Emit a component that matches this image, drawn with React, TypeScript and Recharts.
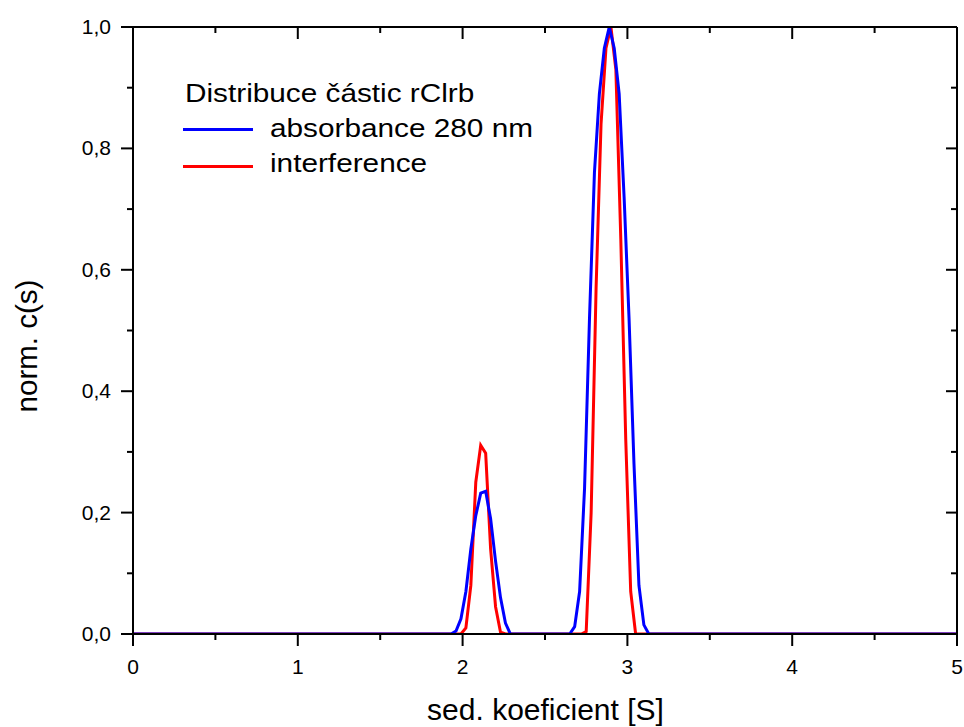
import React from 'react';
import { LineChart, Line, XAxis, YAxis, Legend, Label } from 'recharts';

// sedimentation coefficient [S] and normalised c(s) values
const sBlue = [0, 1.93, 1.96, 1.99, 2.02, 2.05, 2.08, 2.11, 2.14, 2.17, 2.2, 2.23, 2.26, 2.29, 2.65, 2.68, 2.71, 2.74, 2.77, 2.8, 2.83, 2.86, 2.89, 2.92, 2.95, 2.98, 3.01, 3.04, 3.07, 3.1, 3.13, 5];
const cBlue = [0, 0, 0.005, 0.025, 0.07, 0.14, 0.195, 0.232, 0.235, 0.19, 0.12, 0.06, 0.018, 0, 0, 0.012, 0.07, 0.24, 0.52, 0.76, 0.89, 0.965, 1.0, 0.965, 0.89, 0.72, 0.52, 0.28, 0.08, 0.015, 0, 0];
const sRed = [0, 1.99, 2.02, 2.05, 2.08, 2.11, 2.14, 2.17, 2.2, 2.23, 2.26, 2.72, 2.75, 2.78, 2.81, 2.84, 2.87, 2.9, 2.93, 2.96, 2.99, 3.02, 3.05, 5];
const cRed = [0, 0, 0.01, 0.08, 0.25, 0.311, 0.298, 0.14, 0.045, 0.003, 0, 0, 0.004, 0.2, 0.57, 0.84, 0.965, 1.0, 0.93, 0.65, 0.32, 0.07, 0, 0];

const xTicks = [0, 0.5, 1, 1.5, 2, 2.5, 3, 3.5, 4, 4.5, 5];
const yTicks = [0, 0.1, 0.2, 0.3, 0.4, 0.5, 0.6, 0.7, 0.8, 0.9, 1.0];
const legendTitle = 'Distribuce částic rClrb';
const seriesNames = ['absorbance 280 nm', 'interference'];
const seriesColors = ['#0000ff', '#ff0000'];
const xTitle = 'sed. koeficient [S]';
const yTitle = 'norm. c(s)';

const blueData = sBlue.map((s, i) => ({ s, c: cBlue[i] }));
const redData = sRed.map((s, i) => ({ s, c: cRed[i] }));

const FONT = '"Liberation Sans", Arial, Helvetica, sans-serif';
const isMajorX = (v: number) => Math.abs(v - Math.round(v)) < 1e-6;
const isMajorY = (v: number) => Math.round(v * 10) % 2 === 0;
const fmtY = (v: number) => v.toFixed(1).replace('.', ',');

const BottomTick = (props: any) => {
  const { x, y, payload } = props;
  const v = payload.value;
  const major = isMajorX(v);
  return (
    <g>
      <line x1={x} x2={x} y1={y} y2={y + (major ? 12 : 6)} stroke="#000" strokeWidth={2} />
      {major && (
        <text x={x} y={y + 40} textAnchor="middle" fontSize={21} fontFamily={FONT} fill="#000">
          {String(v)}
        </text>
      )}
    </g>
  );
};

const TopTick = (props: any) => {
  const { x, y, payload } = props;
  const major = isMajorX(payload.value);
  return <line x1={x} x2={x} y1={y} y2={y + (major ? 12 : 6)} stroke="#000" strokeWidth={2} />;
};

const LeftTick = (props: any) => {
  const { x, y, payload } = props;
  const v = payload.value;
  const major = isMajorY(v);
  return (
    <g>
      <line x1={x - (major ? 12 : 6)} x2={x} y1={y} y2={y} stroke="#000" strokeWidth={2} />
      {major && (
        <text x={x - 22} y={y + 7} textAnchor="end" fontSize={21} fontFamily={FONT} fill="#000">
          {fmtY(v)}
        </text>
      )}
    </g>
  );
};

const RightTick = (props: any) => {
  const { x, y, payload } = props;
  const major = isMajorY(payload.value);
  return <line x1={x - (major ? 11 : 6)} x2={x} y1={y} y2={y} stroke="#000" strokeWidth={2} />;
};

const textSpan = (t: string) => (
  <span style={{ display: 'inline-block', transform: 'scaleX(1.19)', transformOrigin: '0 50%' }}>{t}</span>
);

const LegendContent = () => (
  <div style={{ fontFamily: FONT, fontSize: 25, color: '#000', lineHeight: '35px', whiteSpace: 'nowrap', position: 'relative' }}>
    <div style={{ height: 35, position: 'relative' }}>
      <div style={{ position: 'absolute', left: 2, top: 0 }}>{textSpan(legendTitle)}</div>
    </div>
    {seriesNames.map((n, i) => (
      <div key={n} style={{ height: 35, position: 'relative' }}>
        <div style={{ position: 'absolute', left: 0, top: 17.5 + i * 1.5, width: 70, height: 3, background: seriesColors[i] }} />
        <div style={{ position: 'absolute', left: 87, top: 0 }}>{textSpan(n)}</div>
      </div>
    ))}
  </div>
);

export default function App() {
  return (
    <div style={{ position: 'absolute', left: 0, top: 0, background: '#fff' }}>
      <LineChart width={964} height={727} margin={{ top: 0, right: 0, bottom: 0, left: 0 }}>
        <XAxis
          xAxisId="b"
          dataKey="s"
          type="number"
          orientation="bottom"
          domain={[0, 5]}
          allowDataOverflow
          ticks={xTicks}
          interval={0}
          height={93}
          tickSize={0}
          tickMargin={0}
          tickLine={false}
          tick={BottomTick}
          axisLine={{ stroke: '#000', strokeWidth: 2 }}
        >
          <Label
            content={() => (
              <text x={545.5} y={720} textAnchor="middle" fontSize={30} fontFamily={FONT} fill="#000">
                {xTitle}
              </text>
            )}
          />
        </XAxis>
        <XAxis
          xAxisId="t"
          dataKey="s"
          type="number"
          orientation="top"
          domain={[0, 5]}
          allowDataOverflow
          ticks={xTicks}
          interval={0}
          height={27}
          tickSize={0}
          tickMargin={0}
          tickLine={false}
          tick={TopTick}
          axisLine={{ stroke: '#000', strokeWidth: 2 }}
        />
        <YAxis
          yAxisId="l"
          type="number"
          orientation="left"
          domain={[0, 1]}
          allowDataOverflow
          ticks={yTicks}
          interval={0}
          width={133}
          tickSize={0}
          tickMargin={0}
          tickLine={false}
          tick={LeftTick}
          axisLine={{ stroke: '#000', strokeWidth: 2 }}
        >
          <Label
            content={() => (
              <text x={37} y={346} transform="rotate(-90 37 346)" textAnchor="middle" fontSize={29.5} fontFamily={FONT} fill="#000">
                {yTitle}
              </text>
            )}
          />
        </YAxis>
        <YAxis
          yAxisId="r"
          type="number"
          orientation="right"
          domain={[0, 1]}
          allowDataOverflow
          ticks={yTicks}
          interval={0}
          width={7}
          tickSize={0}
          tickMargin={0}
          tickLine={false}
          tick={RightTick}
          axisLine={{ stroke: '#000', strokeWidth: 2 }}
        />
        <Legend
          layout="vertical"
          align="center"
          verticalAlign="middle"
          content={LegendContent}
          wrapperStyle={{ left: 183, top: 75.5, width: 420, height: 110 }}
        />
        <Line
          xAxisId="b"
          yAxisId="l"
          data={redData}
          dataKey="c"
          name={seriesNames[1]}
          stroke={seriesColors[1]}
          strokeWidth={3}
          dot={false}
          activeDot={false}
          type="linear"
          isAnimationActive={false}
        />
        <Line
          xAxisId="b"
          yAxisId="l"
          data={blueData}
          dataKey="c"
          name={seriesNames[0]}
          stroke={seriesColors[0]}
          strokeWidth={3}
          dot={false}
          activeDot={false}
          type="linear"
          isAnimationActive={false}
        />
      </LineChart>
    </div>
  );
}
